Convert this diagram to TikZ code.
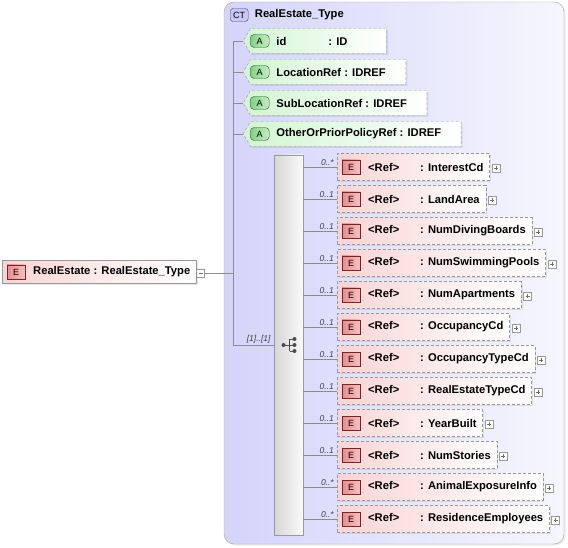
\documentclass[tikz,border=0pt]{standalone}
\usepackage{fontspec}
\setmainfont{Liberation Sans}
\usetikzlibrary{positioning, shapes.symbols, shadows}
\definecolor{elempink}{RGB}{250,212,212}
\definecolor{ebadgefill}{RGB}{235,140,140}
\definecolor{ebadgeline}{RGB}{110,40,40}
\definecolor{attrgreen}{RGB}{210,245,210}
\definecolor{abadgefill}{RGB}{130,210,130}
\definecolor{abadgeline}{RGB}{40,90,40}
\definecolor{ctblue}{RGB}{212,212,250}
\definecolor{ctbadgefill}{RGB}{200,200,245}
\definecolor{ctline}{RGB}{70,70,130}
\tikzset{
  conn/.style={draw=black!45, line width=.6pt},
  boxfont/.style={font=\bfseries\fontsize{11.2}{13}\selectfont},
  shade/.style={drop shadow={opacity=.18, shadow xshift=1.5pt, shadow yshift=-1.5pt}},
  ebadge/.style={anchor=west, xshift=5pt, draw=ebadgeline, left color=ebadgefill, right color=ebadgefill!55,
    minimum width=18pt, minimum height=14pt, inner sep=0pt, font=\fontsize{9}{10}\selectfont},
  abadge/.style={anchor=west, xshift=7pt, draw=abadgeline, rounded corners=4pt, left color=abadgefill, right color=abadgefill!45,
    minimum width=19pt, minimum height=13pt, inner sep=0pt, font=\fontsize{9}{10}\selectfont},
  card/.style={anchor=south east, xshift=-2pt, inner sep=1pt, text=black!75, font=\itshape\fontsize{8.5}{10}\selectfont},
  plusbox/.style={anchor=west, xshift=2pt, yshift=-1pt, draw=black!40, fill=white, minimum size=8pt, inner sep=0pt,
    path picture={\draw[black!55] ([xshift=2pt]path picture bounding box.west) -- ++(4pt,0)
      ([yshift=-2pt]path picture bounding box.north) -- ++(0,-4pt);}},
  minusbox/.style={draw=black!40, fill=white, minimum size=8pt, inner sep=0pt,
    path picture={\draw[black!55] ([xshift=2pt]path picture bounding box.west) -- ++(4pt,0);}},
  root/.style={boxfont, shade, anchor=west, draw=black!40, left color=elempink, right color=white,
    minimum height=23pt, inner xsep=6pt, execute at begin node=\hspace*{25pt}, label={[ebadge]west:E}},
  elem/.style={boxfont, shade, draw=black!40, dash pattern=on 3pt off 2pt, left color=elempink, right color=white,
    minimum height=27pt, inner xsep=6pt, execute at begin node=\hspace*{25pt},
    label={[ebadge]west:E}, label={[card]west:#1}, label={[plusbox]east:{}}},
  attr/.style={boxfont, shade, signal, signal to=west, signal pointer angle=120, draw=black!40, dash pattern=on 3pt off 2pt,
    left color=attrgreen, right color=white, minimum height=25pt, inner xsep=2pt,
    execute at begin node=\hspace*{24pt}, execute at end node=\hspace*{18pt}, label={[abadge]west:A}},
  ctbox/.style={rounded corners=10pt, draw=black!35, left color=ctblue, right color=ctblue!20,
    minimum width=340pt, minimum height=542pt, drop shadow={opacity=.15, shadow xshift=1.5pt, shadow yshift=-1.5pt}},
  ctbadge/.style={draw=ctline, rounded corners=3pt, fill=ctbadgefill, minimum width=18pt, minimum height=13pt,
    inner sep=0pt, font=\fontsize{9}{10}\selectfont},
  seqbox/.style={draw=black!40, left color=black!16, right color=black!2, minimum width=29pt, minimum height=380pt}
}

\begin{document}
\begin{tikzpicture}[x=1pt, y=-1pt]
\useasboundingbox (0,0) rectangle (568,548);

% complex type
\node[ctbox] (ct) at (394,273) {};
\node[ctbadge, anchor=west] (ctb) at (230,15) {CT};
\node[boxfont, right=3pt of ctb] (ctname) {RealEstate\_Type};

% root element
\node[root] (root) at (2,272) {RealEstate : RealEstate\_Type};
\node[minusbox, right=0pt of root, yshift=-1pt] (rootm) {};

% attributes
\node[attr, anchor=west] (a1) at (243,41) {\makebox[52pt][l]{id}: ID\hspace*{19pt}};
\node[attr, below=31pt of a1.west, anchor=west] (a2) {LocationRef : IDREF};
\node[attr, below=31pt of a2.west, anchor=west] (a3) {SubLocationRef : IDREF};
\node[attr, below=31pt of a3.west, anchor=west] (a4) {OtherOrPriorPolicyRef : IDREF};

% sequence
\node[seqbox] (seq) at (288.5,345) {};
\draw[black!70, line width=.9pt] ([xshift=-5pt]seq.center) -- ([xshift=6pt]seq.center)
  ([xshift=1pt,yshift=6pt]seq.center) -- ([xshift=1pt,yshift=-6pt]seq.center)
  ([xshift=1pt,yshift=6pt]seq.center) -- ([xshift=6pt,yshift=6pt]seq.center)
  ([xshift=1pt,yshift=-6pt]seq.center) -- ([xshift=6pt,yshift=-6pt]seq.center);
\fill[black!70] ([xshift=-5pt]seq.center) circle (2pt)
  ([xshift=6pt,yshift=6pt]seq.center) circle (2pt)
  ([xshift=6pt]seq.center) circle (2pt)
  ([xshift=6pt,yshift=-6pt]seq.center) circle (2pt);

% child elements
\node[elem=0..*, anchor=west] (e1) at (337,167) {\makebox[52pt][l]{<Ref>}: InterestCd};
\node[elem=0..1, below=32pt of e1.west, anchor=west] (e2) {\makebox[52pt][l]{<Ref>}: LandArea};
\node[elem=0..1, below=32pt of e2.west, anchor=west] (e3) {\makebox[52pt][l]{<Ref>}: NumDivingBoards};
\node[elem=0..1, below=32pt of e3.west, anchor=west] (e4) {\makebox[52pt][l]{<Ref>}: NumSwimmingPools};
\node[elem=0..1, below=32pt of e4.west, anchor=west] (e5) {\makebox[52pt][l]{<Ref>}: NumApartments};
\node[elem=0..1, below=32pt of e5.west, anchor=west] (e6) {\makebox[52pt][l]{<Ref>}: OccupancyCd};
\node[elem=0..1, below=32pt of e6.west, anchor=west] (e7) {\makebox[52pt][l]{<Ref>}: OccupancyTypeCd};
\node[elem=0..1, below=32pt of e7.west, anchor=west] (e8) {\makebox[52pt][l]{<Ref>}: RealEstateTypeCd};
\node[elem=0..1, below=32pt of e8.west, anchor=west] (e9) {\makebox[52pt][l]{<Ref>}: YearBuilt};
\node[elem=0..1, below=32pt of e9.west, anchor=west] (e10) {\makebox[52pt][l]{<Ref>}: NumStories};
\node[elem=0..*, below=32pt of e10.west, anchor=west] (e11) {\makebox[52pt][l]{<Ref>}: AnimalExposureInfo};
\node[elem=0..*, below=32pt of e11.west, anchor=west] (e12) {\makebox[52pt][l]{<Ref>}: ResidenceEmployees};

% connectors
\coordinate (trunk) at (233,345);
\draw[conn] (rootm.east) -- (rootm.east -| trunk);
\draw[conn] (a1.west -| trunk) -- (trunk) -- (seq.west |- trunk) node[card]{[1]..[1]};
\draw[conn]
(a1.west) edge (a1.west -| trunk)
(a2.west) edge (a2.west -| trunk)
(a3.west) edge (a3.west -| trunk)
(a4.west) edge (a4.west -| trunk);
\draw[conn]
(e1.west) edge (e1.west -| seq.east)
(e2.west) edge (e2.west -| seq.east)
(e3.west) edge (e3.west -| seq.east)
(e4.west) edge (e4.west -| seq.east)
(e5.west) edge (e5.west -| seq.east)
(e6.west) edge (e6.west -| seq.east)
(e7.west) edge (e7.west -| seq.east)
(e8.west) edge (e8.west -| seq.east)
(e9.west) edge (e9.west -| seq.east)
(e10.west) edge (e10.west -| seq.east)
(e11.west) edge (e11.west -| seq.east)
(e12.west) edge (e12.west -| seq.east);
\end{tikzpicture}
\end{document}
